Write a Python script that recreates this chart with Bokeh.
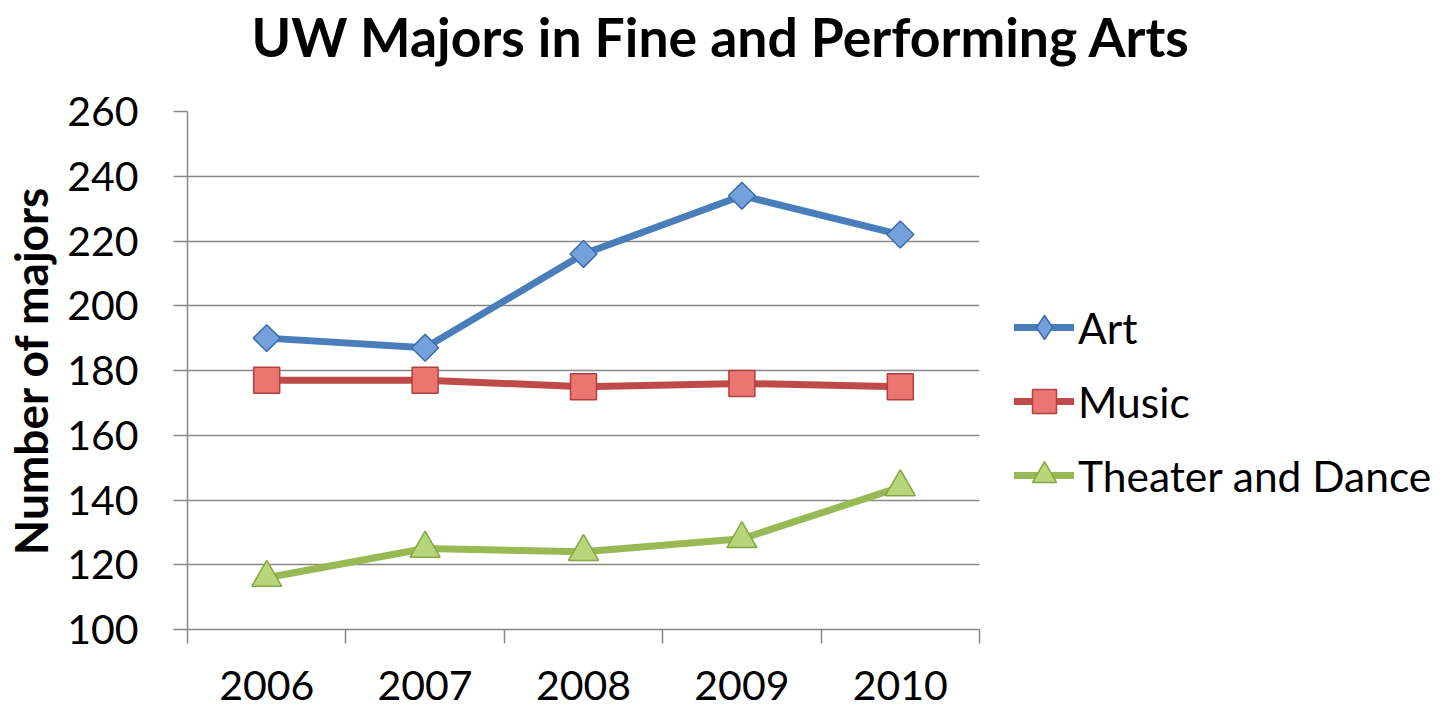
import math
from bokeh.plotting import figure
from bokeh.models import (Range1d, FixedTicker, Legend, LegendItem, Title)
from bokeh.embed import file_html
from bokeh.resources import INLINE

years = ["2006", "2007", "2008", "2009", "2010"]
art = [190, 187, 216, 234, 222]
music = [177, 177, 175, 176, 175]
theater = [116, 125, 124, 128, 144]
series_names = ["Art", "Music", "Theater and Dance"]
y_ticks = [100, 120, 140, 160, 180, 200, 220, 240, 260]
chart_title = "UW Majors in Fine and Performing Arts"

xs = [i + 0.5 for i in range(len(years))]
FONT = "Lato"
GRAY = "#888888"

p = figure(frame_width=792, frame_height=518, output_backend="svg", toolbar_location=None,
           x_range=Range1d(0, len(years)), y_range=Range1d(y_ticks[0], y_ticks[-1]),
           min_border_left=186, min_border_right=0, min_border_top=110,
           min_border_bottom=79)
p.title = None
p.outline_line_color = None
p.background_fill_color = "white"

# spacer between frame and title, then the title itself (stacked outward)
p.add_layout(Title(text=" ", text_font_size="10px", standoff=30), "above")
p.add_layout(Title(text=chart_title, align="left", offset=64, standoff=2,
                   text_font=FONT, text_font_size="53.5px", text_font_style="bold",
                   text_color="black"), "above")

# x axis
xa = p.xaxis[0]
xa.ticker = FixedTicker(ticks=xs, minor_ticks=list(range(len(years) + 1)))
xa.major_label_overrides = {x: y for x, y in zip(xs, years)}
xa.major_tick_out = 0
xa.major_tick_in = 0
xa.minor_tick_out = 14
xa.minor_tick_in = 0
xa.minor_tick_line_color = GRAY
xa.minor_tick_line_width = 1.5
xa.axis_line_color = GRAY
xa.axis_line_width = 1.5
xa.major_label_text_font = FONT
xa.major_label_text_font_size = "41px"
xa.major_label_text_line_height = 1.0
xa.major_label_text_color = "black"
xa.major_label_standoff = 27

# y axis
ya = p.yaxis[0]
ya.ticker = FixedTicker(ticks=y_ticks, minor_ticks=[])
ya.major_tick_out = 14
ya.major_tick_in = 0
ya.major_tick_line_color = GRAY
ya.major_tick_line_width = 1.5
ya.axis_line_color = GRAY
ya.axis_line_width = 1.5
ya.major_label_text_font = FONT
ya.major_label_text_font_size = "41px"
ya.major_label_text_color = "black"
ya.major_label_standoff = 35
ya.axis_label = "Number of majors"
ya.axis_label_text_font = FONT
ya.axis_label_text_font_size = "46px"
ya.axis_label_text_font_style = "bold"
ya.axis_label_text_color = "black"
ya.axis_label_standoff = 6

p.xgrid.grid_line_color = None
p.ygrid.ticker = FixedTicker(ticks=y_ticks)
p.ygrid.grid_line_color = GRAY
p.ygrid.grid_line_width = 1.5

styles = [
    (art, "#4A7EBB", "square", "#74A0DC", "#3D6DA8", 19, math.pi / 4, "diamond"),
    (music, "#BE4B48", "square", "#EC7572", "#B0413E", 26, 0, "square"),
    (theater, "#98B954", "triangle", "#B7D67A", "#86A545", 30, 0, "triangle"),
]
nan = float("nan")
items = []
for name, (vals, lc, marker, fc, oc, sz, ang, lmarker) in zip(series_names, styles):
    ln = p.line(xs, vals, line_color=lc, line_width=7, line_join="round", line_cap="round")
    p.scatter(xs, vals, marker=marker, size=sz, angle=ang, fill_color=fc,
              line_color=oc, line_width=1.5)
    key = p.scatter([nan], [nan], marker=lmarker, size=sz, fill_color=fc,
                    line_color=oc, line_width=1.5)
    items.append(LegendItem(label=name, renderers=[ln, key]))

legend = Legend(items=items, location="top_left", glyph_width=60, glyph_height=60,
                label_height=44, spacing=14, padding=0, margin=35,
                title=" ", title_text_font_size="10px", title_standoff=140,
                label_text_font=FONT, label_text_font_size="42.5px",
                label_text_color="black", label_standoff=4,
                border_line_color=None, background_fill_alpha=0)
p.add_layout(legend, "right")

open("out.html", "w").write(file_html(p, INLINE))
